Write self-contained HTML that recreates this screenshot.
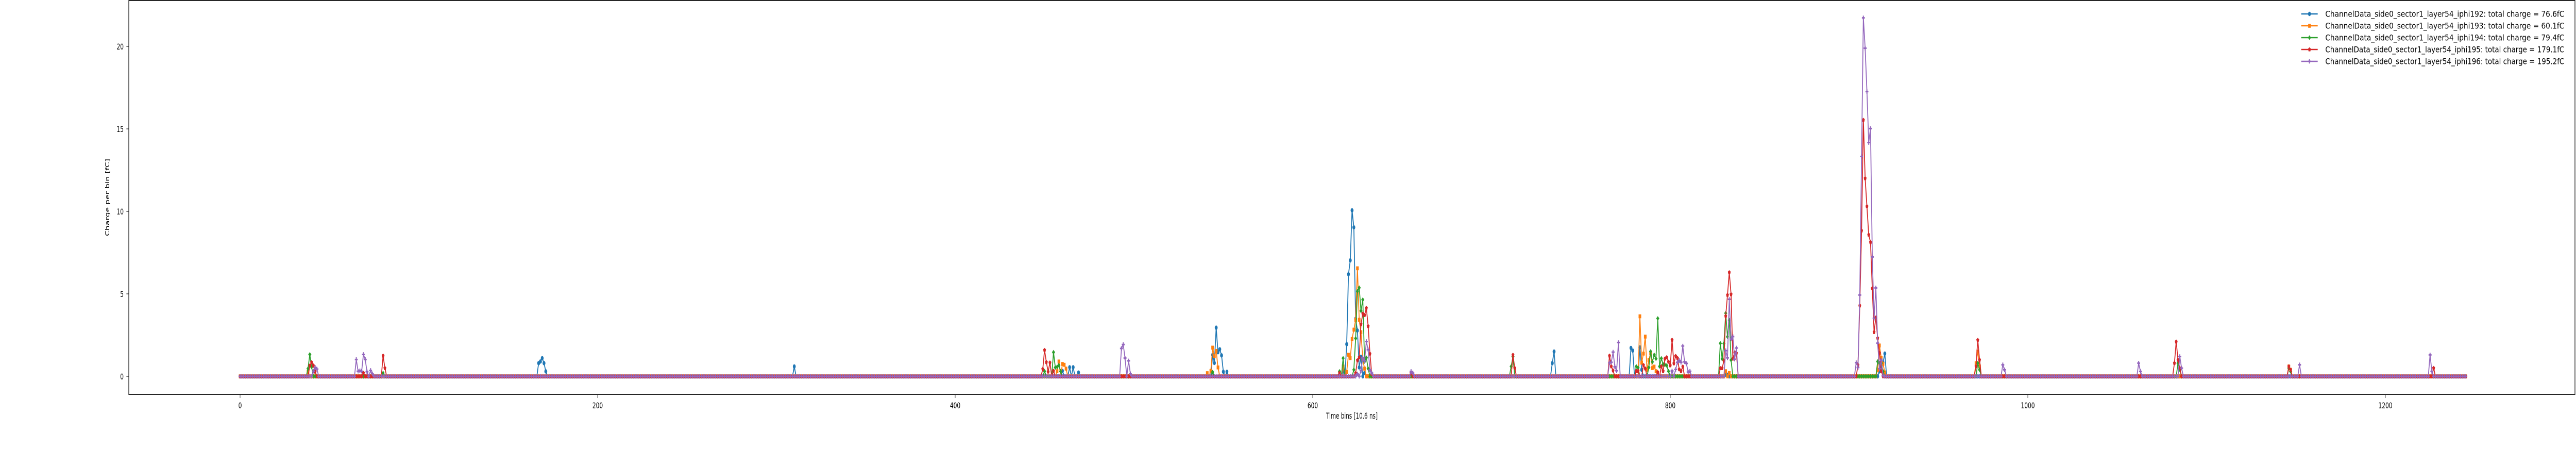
<!DOCTYPE html>
<html><head><meta charset="utf-8"><style>
html,body{margin:0;padding:0;background:#fff;width:100%;height:100%;overflow:hidden;}
svg{display:block;position:absolute;left:0;top:0;width:100vw;height:100vh;font-family:"DejaVu Sans","Liberation Sans",sans-serif;}
</style></head><body>
<svg id="chart" viewBox="0 0 7500 900" preserveAspectRatio="none" xmlns="http://www.w3.org/2000/svg">
<defs>
<marker id="m0" viewBox="-6 -6 12 12" markerWidth="12" markerHeight="12" markerUnits="userSpaceOnUse" refX="0" refY="0"><circle r="4.2" fill="#1f77b4"/></marker>
<marker id="m1" viewBox="-6 -6 12 12" markerWidth="12" markerHeight="12" markerUnits="userSpaceOnUse" refX="0" refY="0"><rect x="-3.8" y="-3.8" width="7.6" height="7.6" fill="#ff7f0e"/></marker>
<marker id="m2" viewBox="-6 -6 12 12" markerWidth="12" markerHeight="12" markerUnits="userSpaceOnUse" refX="0" refY="0"><path d="M0,-4.6L4.6,0L0,4.6L-4.6,0Z" fill="#2ca02c"/></marker>
<marker id="m3" viewBox="-6 -6 12 12" markerWidth="12" markerHeight="12" markerUnits="userSpaceOnUse" refX="0" refY="0"><path d="M0,-4.4L4.2,-1.4L2.6,3.6L-2.6,3.6L-4.2,-1.4Z" fill="#d62728"/></marker>
<marker id="m4" viewBox="-6 -6 12 12" markerWidth="12" markerHeight="12" markerUnits="userSpaceOnUse" refX="0" refY="0"><path d="M-1.5,-4.3H1.5V-1.5H4.3V1.5H1.5V4.3H-1.5V1.5H-4.3V-1.5H-1.5Z" fill="#9467bd"/></marker>
</defs>
<g id="plot"></g>
<rect x="375" y="1" width="7122" height="764" fill="none" stroke="#262626" stroke-width="2"/>
<g id="axes"></g>
<text x="3936" y="812" text-anchor="middle" font-size="16" fill="#000" textLength="150" lengthAdjust="spacingAndGlyphs">Time bins [10.6 ns]</text>
<text transform="translate(318,383) rotate(-90)" text-anchor="middle" font-size="16" fill="#000" textLength="150" lengthAdjust="spacingAndGlyphs">Charge per bin [fC]</text>
<g id="legend"></g>
</svg>
<script>
const NS="http://www.w3.org/2000/svg";
const nBins=1246;
const seriesNames=["ChannelData_side0_sector1_layer54_iphi192: total charge = 76.6fC","ChannelData_side0_sector1_layer54_iphi193: total charge = 60.1fC","ChannelData_side0_sector1_layer54_iphi194: total charge = 79.4fC","ChannelData_side0_sector1_layer54_iphi195: total charge = 179.1fC","ChannelData_side0_sector1_layer54_iphi196: total charge = 195.2fC"];
const colors=["#1f77b4","#ff7f0e","#2ca02c","#d62728","#9467bd"];
const xTicks=[0,200,400,600,800,1000,1200];
const yTicks=[0,5,10,15,20];
const blueBins=[167,168,169,170,171,310,460,464,466,469,544,545,546,547,548,549,550,552,617,619,620,621,622,623,624,625,626,627,629,734,735,778,779,783,784,831,832,917,918,919,920];
const blueVals=[0.8,0.9,1.1,0.8,0.3,0.6,0.33,0.55,0.55,0.23,1.3,0.81,2.95,1.46,1.64,1.27,0.28,0.28,0.3,1.95,6.19,7.03,10.06,9.03,3.49,2.78,0.54,1.19,0.2,0.8,1.5,1.72,1.56,1.75,0.4,0.1,0.1,0.3,0.6,0.83,1.38];
const orangeBins=[38,457,458,460,461,462,541,543,544,545,546,547,617,619,620,621,622,623,624,625,626,627,628,629,783,784,785,786,787,788,789,790,791,792,831,833,916,917,918,919,920,971,972,973,1146,1147];
const orangeVals=[0.26,0.31,0.9,0.75,0.7,0.47,0.19,0.33,1.74,1.23,1.54,0.54,0.6,0.27,1.31,1.11,2.27,2.83,3.42,6.55,3.43,2.68,1.02,0.47,3.64,0.83,1.38,2.41,0.4,0.99,1.4,0.5,0.59,0.31,0.31,0.2,0.4,1.87,1.13,0.76,0.24,0.8,1.5,0.6,0.6,0.4];
const greenBins=[38,39,40,80,450,455,456,457,458,459,544,615,617,623,624,625,626,627,628,629,630,631,711,712,781,782,788,789,790,791,792,793,794,795,796,797,798,799,828,829,830,831,832,833,834,916,917,918,919,972,973,1084,1085,1146,1147];
const greenVals=[0.47,1.33,0.57,0.2,0.31,1.46,0.54,0.57,0.68,0.3,0.26,0.3,1.1,0.4,2.3,5.16,5.37,3.97,4.65,0.9,1.13,0.47,0.6,1.2,0.6,0.52,0.54,1.51,0.88,1.3,1.07,3.51,0.6,1.09,0.73,0.7,0.66,0.31,2.0,1.06,1.99,3.83,2.4,3.41,0.99,0.9,0.8,0.8,0.3,0.8,0.4,0.8,0.4,0.5,0.3];
const redBins=[39,40,41,42,69,80,81,449,450,451,452,453,455,615,624,625,626,627,628,629,630,631,632,633,655,712,713,766,767,768,781,782,785,786,793,795,796,797,798,799,800,801,802,803,804,805,806,807,828,829,830,831,832,833,834,835,836,837,905,906,907,908,909,910,911,912,913,914,915,916,917,918,971,972,973,1082,1083,1084,1085,1146,1147,1227];
const redVals=[0.65,0.85,0.65,0.28,0.21,1.25,0.5,0.44,1.59,0.86,0.28,0.83,0.33,0.2,0.2,0.97,1.15,3.16,3.8,3.71,4.14,3.04,1.37,0.14,0.2,1.3,0.5,1.25,0.6,0.35,0.33,0.33,0.68,0.47,0.25,0.6,0.31,1.07,1.15,0.88,0.66,2.21,0.78,1.23,1.11,0.42,0.31,0.59,0.49,0.49,0.94,3.65,4.93,6.3,4.97,1.07,1.44,1.4,0.69,4.29,8.83,15.54,12.0,10.3,8.58,8.13,5.33,2.68,3.56,2.31,1.42,0.32,0.6,2.2,1.0,0.8,2.1,1.0,0.5,0.6,0.4,0.5];
const purpleBins=[41,42,43,65,66,67,68,69,70,71,73,74,493,494,495,497,498,625,627,628,629,630,631,632,633,655,656,766,767,768,769,770,771,801,803,804,805,806,807,808,809,810,811,831,832,833,834,835,836,837,904,905,906,907,908,909,910,911,912,913,914,915,916,917,918,919,986,987,1062,1063,1085,1086,1152,1225,1226];
const purpleVals=[0.31,0.54,0.44,1.02,0.31,0.34,0.31,1.33,1.02,0.28,0.36,0.16,1.69,1.93,1.11,0.94,0.16,0.15,0.35,1.13,0.94,2.11,1.61,0.39,0.2,0.3,0.2,0.82,0.85,1.47,0.58,0.34,2.05,0.33,0.42,0.85,0.96,0.85,1.84,0.88,0.78,0.26,0.31,1.56,1.12,4.67,2.26,2.41,1.04,1.72,0.83,0.54,4.93,13.33,21.73,19.89,17.26,14.17,15.02,7.24,3.52,5.36,2.01,0.47,0.98,0.05,0.7,0.4,0.8,0.3,1.2,0.5,0.7,1.3,0.3];
const allBins=[blueBins,orangeBins,greenBins,redBins,purpleBins];
const allVals=[blueVals,orangeVals,greenVals,redVals,purpleVals];

const X0=699, XS=5.205, Y0=730, YS=32;
function xs(v){return X0+v*XS;}
function ys(v){return Y0-v*YS;}

const plot=document.getElementById('plot');
for(let s=0;s<5;s++){
  const arr=new Array(nBins).fill(0);
  allBins[s].forEach((b,i)=>{arr[b]=allVals[s][i];});
  let d="";
  for(let i=0;i<nBins;i++){d+=(i?"L":"M")+xs(i).toFixed(2)+","+ys(arr[i]).toFixed(2);}
  const p=document.createElementNS(NS,'path');
  p.setAttribute('d',d);
  p.setAttribute('fill','none');
  p.setAttribute('stroke',colors[s]);
  p.setAttribute('stroke-width','2.6');
  p.setAttribute('stroke-linejoin','round');
  p.setAttribute('marker-start','url(#m'+s+')');
  p.setAttribute('marker-mid','url(#m'+s+')');
  p.setAttribute('marker-end','url(#m'+s+')');
  
  
  plot.appendChild(p);
}
const axes=document.getElementById('axes');
xTicks.forEach(t=>{
  const l=document.createElementNS(NS,'line');
  l.setAttribute('x1',xs(t));l.setAttribute('x2',xs(t));l.setAttribute('y1',766);l.setAttribute('y2',772);
  l.setAttribute('stroke','#262626');l.setAttribute('stroke-width','1.2');
  
  
  axes.appendChild(l);
  const tx=document.createElementNS(NS,'text');
  tx.setAttribute('x',xs(t));tx.setAttribute('y',792);tx.setAttribute('text-anchor','middle');tx.setAttribute('font-size','16');
  tx.textContent=t;
  
  
  axes.appendChild(tx);
});
yTicks.forEach(t=>{
  const l=document.createElementNS(NS,'line');
  l.setAttribute('x1',368);l.setAttribute('x2',375);l.setAttribute('y1',ys(t));l.setAttribute('y2',ys(t));
  l.setAttribute('stroke','#262626');l.setAttribute('stroke-width','1.2');
  
  
  axes.appendChild(l);
  const tx=document.createElementNS(NS,'text');
  tx.setAttribute('x',360);tx.setAttribute('y',ys(t)+6);tx.setAttribute('text-anchor','end');tx.setAttribute('font-size','16');
  tx.textContent=t;
  
  
  axes.appendChild(tx);
});
const legend=document.getElementById('legend');
seriesNames.forEach((n,s)=>{
  const y=27+s*23;
  const g=document.createElementNS(NS,'g');
  
  
  const p=document.createElementNS(NS,'path');
  p.setAttribute('d','M6700,'+y+'L6724,'+y+'L6748,'+y);
  p.setAttribute('stroke',colors[s]);p.setAttribute('stroke-width','2.6');p.setAttribute('fill','none');
  p.setAttribute('marker-mid','url(#m'+s+')');
  g.appendChild(p);
  const tx=document.createElementNS(NS,'text');
  tx.setAttribute('x',6770);tx.setAttribute('y',y+5.5);tx.setAttribute('font-size','16');
  tx.setAttribute('textLength','696');tx.setAttribute('lengthAdjust','spacingAndGlyphs');
  tx.textContent=n;
  g.appendChild(tx);
  legend.appendChild(g);
});
</script>
</body></html>
